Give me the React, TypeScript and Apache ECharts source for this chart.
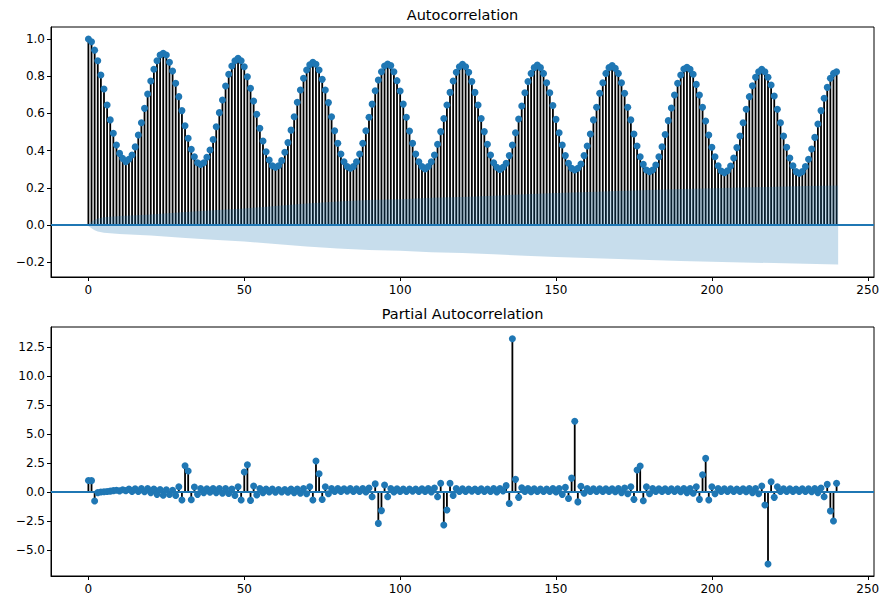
import React, { useEffect, useRef } from "react";
import * as echarts from "echarts";

// ---- data ----
const ACF_VALUES = [
  1.0, 0.985, 0.94, 0.883, 0.806, 0.731, 0.645, 0.565, 0.493, 0.43,
  0.385, 0.358, 0.34, 0.353, 0.376, 0.42, 0.484, 0.55, 0.627, 0.704,
  0.774, 0.837, 0.883, 0.914, 0.923, 0.914, 0.875, 0.828, 0.762, 0.69,
  0.615, 0.534, 0.466, 0.407, 0.367, 0.335, 0.326, 0.335, 0.364, 0.403,
  0.46, 0.528, 0.604, 0.672, 0.747, 0.81, 0.855, 0.883, 0.896, 0.883,
  0.851, 0.797, 0.735, 0.667, 0.595, 0.52, 0.452, 0.394, 0.349, 0.319,
  0.31, 0.319, 0.346, 0.391, 0.443, 0.51, 0.582, 0.66, 0.726, 0.789,
  0.833, 0.862, 0.875, 0.864, 0.833, 0.783, 0.726, 0.658, 0.582, 0.507,
  0.439, 0.382, 0.34, 0.314, 0.305, 0.314, 0.34, 0.382, 0.439, 0.507,
  0.579, 0.65, 0.722, 0.78, 0.824, 0.855, 0.866, 0.857, 0.824, 0.776,
  0.72, 0.65, 0.579, 0.505, 0.439, 0.382, 0.34, 0.314, 0.301, 0.314,
  0.34, 0.376, 0.434, 0.502, 0.573, 0.645, 0.713, 0.774, 0.821, 0.851,
  0.864, 0.851, 0.821, 0.771, 0.713, 0.645, 0.573, 0.502, 0.434, 0.376,
  0.335, 0.31, 0.299, 0.31, 0.332, 0.373, 0.43, 0.496, 0.57, 0.64,
  0.711, 0.771, 0.815, 0.846, 0.86, 0.846, 0.815, 0.765, 0.711, 0.642,
  0.568, 0.496, 0.43, 0.373, 0.332, 0.305, 0.296, 0.305, 0.328, 0.373,
  0.425, 0.489, 0.565, 0.633, 0.708, 0.765, 0.815, 0.846, 0.857, 0.842,
  0.815, 0.765, 0.708, 0.633, 0.565, 0.489, 0.425, 0.367, 0.326, 0.296,
  0.287, 0.296, 0.323, 0.367, 0.421, 0.487, 0.561, 0.629, 0.699, 0.762,
  0.806, 0.839, 0.848, 0.837, 0.81, 0.756, 0.699, 0.633, 0.559, 0.484,
  0.418, 0.367, 0.319, 0.29, 0.281, 0.292, 0.317, 0.36, 0.416, 0.478,
  0.55, 0.622, 0.69, 0.749, 0.794, 0.824, 0.837, 0.824, 0.794, 0.753,
  0.694, 0.622, 0.55, 0.478, 0.418, 0.36, 0.319, 0.287, 0.278, 0.287,
  0.314, 0.353, 0.409, 0.471, 0.543, 0.615, 0.681, 0.74, 0.789, 0.815,
  0.824,
];

const PACF_VALUES = [
  1.0, 0.98, -0.77, -0.05, 0.0, 0.02, 0.05, 0.08, 0.12, 0.15,
  0.1, 0.2, 0.12, 0.25, 0.05, 0.28, 0.05, 0.3, 0.02, 0.3,
  -0.05, 0.25, -0.2, 0.22, -0.28, 0.2, -0.22, 0.15, -0.3, 0.46,
  -0.69, 2.27, 1.81, -0.66, 0.43, -0.2, 0.3, -0.05, 0.28, -0.02,
  0.3, -0.05, 0.3, -0.1, 0.3, -0.12, 0.25, -0.3, 0.46, -0.69,
  1.72, 2.35, -0.72, 0.52, -0.25, 0.3, -0.05, 0.25, 0.0, 0.25,
  -0.02, 0.22, 0.0, 0.22, -0.02, 0.25, -0.05, 0.25, -0.1, 0.3,
  -0.15, 0.46, -0.69, 2.67, 1.58, -0.65, 0.46, -0.15, 0.3, 0.05,
  0.3, 0.05, 0.28, 0.08, 0.3, 0.05, 0.28, 0.05, 0.3, 0.0,
  0.35, -0.4, 0.7, -2.7, -1.6, 0.6, -0.4, 0.3, 0.0, 0.28,
  0.05, 0.25, 0.05, 0.25, 0.08, 0.25, 0.05, 0.28, 0.05, 0.3,
  0.0, 0.35, -0.4, 0.75, -2.84, -1.55, 0.75, -0.3, 0.3, 0.05,
  0.28, 0.05, 0.25, 0.08, 0.25, 0.05, 0.28, 0.05, 0.25, 0.05,
  0.3, 0.0, 0.3, 0.1, 0.55, -0.98, 13.2, 1.09, -0.46, 0.37,
  0.05, 0.3, 0.02, 0.28, 0.05, 0.25, 0.05, 0.25, 0.05, 0.3,
  0.0, 0.3, -0.2, 0.4, -0.55, 1.2, 6.1, -0.85, 0.5, -0.1,
  0.3, 0.05, 0.28, 0.05, 0.28, 0.05, 0.28, 0.05, 0.28, 0.02,
  0.3, -0.05, 0.35, -0.15, 0.46, -0.63, 1.9, 2.24, -0.75, 0.46,
  -0.15, 0.3, 0.05, 0.28, 0.05, 0.28, 0.05, 0.28, 0.05, 0.28,
  0.02, 0.3, -0.05, 0.3, -0.1, 0.46, -0.63, 1.49, 2.9, -0.69,
  0.46, -0.15, 0.3, 0.05, 0.28, 0.05, 0.28, 0.05, 0.25, 0.05,
  0.28, 0.02, 0.3, -0.05, 0.3, -0.15, 0.52, -1.12, -6.2, 0.89,
  -0.46, 0.46, 0.05, 0.28, 0.05, 0.28, 0.05, 0.25, 0.05, 0.28,
  0.05, 0.28, 0.02, 0.3, -0.05, 0.35, -0.4, 0.66, -1.64, -2.5,
  0.75,
];

// confidence band (half width) of the ACF, read at these lags
const BAND_LAGS = [-0.5, 1, 2, 3, 5, 10, 20, 30, 40, 50, 60, 70, 80, 90, 100, 110, 120, 130, 140, 150, 160, 170, 180, 190, 200, 210, 220, 230, 240.5];
const BAND_HALF = [0, 0.018, 0.028, 0.035, 0.042, 0.048, 0.056, 0.068, 0.079, 0.089, 0.102, 0.116, 0.126, 0.134, 0.139, 0.146, 0.151, 0.157, 0.165, 0.172, 0.178, 0.183, 0.188, 0.193, 0.197, 0.201, 0.205, 0.209, 0.212];

const X_TICKS = [0, 50, 100, 150, 200, 250];
const ACF_Y_TICKS = [-0.2, 0, 0.2, 0.4, 0.6, 0.8, 1.0];
const PACF_Y_TICKS = [-5, -2.5, 0, 2.5, 5, 7.5, 10, 12.5];
const TITLES = ["Autocorrelation", "Partial Autocorrelation"];

const BLUE = "#1f77b4";
const FONT = "DejaVu Sans";

const fmt = (v: number) => (v < 0 ? "\u2212" : "") + Math.abs(v).toFixed(1);

export default function App() {
  const ref = useRef<HTMLDivElement>(null);
  useEffect(() => {
    if (!ref.current) return;
    const chart = echarts.init(ref.current, null, { renderer: "svg" });

    const acfData = ACF_VALUES.map((v, i) => [i, v]);
    const pacfData = PACF_VALUES.map((v, i) => [i, v]);
    const bandUp = BAND_LAGS.map((l, i) => [l, BAND_HALF[i]]);
    const bandDown = BAND_LAGS.map((l, i) => [l, -BAND_HALF[i]]);

    const stemRender = (params: any, api: any) => {
      const x = api.value(0);
      const y = api.value(1);
      const p0 = api.coord([x, 0]);
      const p1 = api.coord([x, y]);
      return {
        type: "line",
        shape: { x1: p0[0], y1: p0[1], x2: p1[0], y2: p1[1] },
        style: { stroke: "#000", lineWidth: 1.8 },
      };
    };

    const xAxisBase = (gridIndex: number) => ({
      type: "value",
      gridIndex,
      min: -12,
      max: 252,
      axisLine: { show: true, onZero: false, lineStyle: { color: "#000", width: 1 } },
      axisTick: { show: true, length: 4, lineStyle: { color: "#000" }, customValues: X_TICKS },
      axisLabel: {
        customValues: X_TICKS,
        color: "#000",
        fontFamily: FONT,
        fontSize: 12,
        margin: 7,
        formatter: (v: number) => String(v),
      },
      splitLine: { show: false },
    });

    const yAxisBase = (gridIndex: number, min: number, max: number, ticks: number[]) => ({
      type: "value",
      gridIndex,
      min,
      max,
      axisLine: { show: true, onZero: false, lineStyle: { color: "#000", width: 1 } },
      axisTick: { show: true, length: 4, lineStyle: { color: "#000" }, customValues: ticks },
      axisLabel: {
        customValues: ticks,
        color: "#000",
        fontFamily: FONT,
        fontSize: 12,
        margin: 6,
        formatter: (v: number) => fmt(v),
      },
      splitLine: { show: false },
    });

    const zeroLine = {
      silent: true,
      symbol: ["none", "none"],
      z: 2,
      label: { show: false },
      lineStyle: { color: BLUE, width: 1.8, type: "solid" },
      data: [{ yAxis: 0 }],
    };

    chart.setOption({
      animation: false,
      backgroundColor: "#fff",
      grid: [
        { left: 51, top: 27, right: 11, bottom: 323, show: true, borderColor: "#000", borderWidth: 1, backgroundColor: "transparent" },
        { left: 51, top: 327, right: 11, bottom: 24, show: true, borderColor: "#000", borderWidth: 1, backgroundColor: "transparent" },
      ],
      xAxis: [xAxisBase(0), xAxisBase(1)],
      yAxis: [
        yAxisBase(0, -0.2796, 1.0645, ACF_Y_TICKS),
        yAxisBase(1, -7.23, 14.21, PACF_Y_TICKS),
      ],
      graphic: [
        {
          type: "text",
          x: 462.5,
          y: 15,
          style: { text: TITLES[0], fill: "#000", font: `14.5px "${FONT}"`, textAlign: "center", textVerticalAlign: "middle" },
        },
        {
          type: "text",
          x: 462.5,
          y: 314,
          style: { text: TITLES[1], fill: "#000", font: `14.5px "${FONT}"`, textAlign: "center", textVerticalAlign: "middle" },
        },
      ],
      series: [
        // ACF
        { type: "custom", xAxisIndex: 0, yAxisIndex: 0, data: acfData, renderItem: stemRender, z: 1, silent: true },
        { type: "line", xAxisIndex: 0, yAxisIndex: 0, data: [], markLine: zeroLine, z: 2, silent: true },
        { type: "scatter", xAxisIndex: 0, yAxisIndex: 0, data: acfData, symbol: "circle", symbolSize: 7, itemStyle: { color: BLUE, opacity: 1 }, z: 3, silent: true },
        {
          type: "line", xAxisIndex: 0, yAxisIndex: 0, data: bandUp, showSymbol: false, symbol: "none",
          lineStyle: { width: 0, opacity: 0 }, areaStyle: { color: BLUE, opacity: 0.25 }, z: 4, silent: true,
        },
        {
          type: "line", xAxisIndex: 0, yAxisIndex: 0, data: bandDown, showSymbol: false, symbol: "none",
          lineStyle: { width: 0, opacity: 0 }, areaStyle: { color: BLUE, opacity: 0.25 }, z: 4, silent: true,
        },
        // PACF
        { type: "custom", xAxisIndex: 1, yAxisIndex: 1, data: pacfData, renderItem: stemRender, z: 1, silent: true },
        { type: "line", xAxisIndex: 1, yAxisIndex: 1, data: [], markLine: zeroLine, z: 2, silent: true },
        { type: "scatter", xAxisIndex: 1, yAxisIndex: 1, data: pacfData, symbol: "circle", symbolSize: 7, itemStyle: { color: BLUE, opacity: 1 }, z: 3, silent: true },
      ],
    });

    return () => chart.dispose();
  }, []);

  return (
    <div
      ref={ref}
      style={{ position: "fixed", left: 0, top: 0, width: 885, height: 600, background: "#fff" }}
    />
  );
}
